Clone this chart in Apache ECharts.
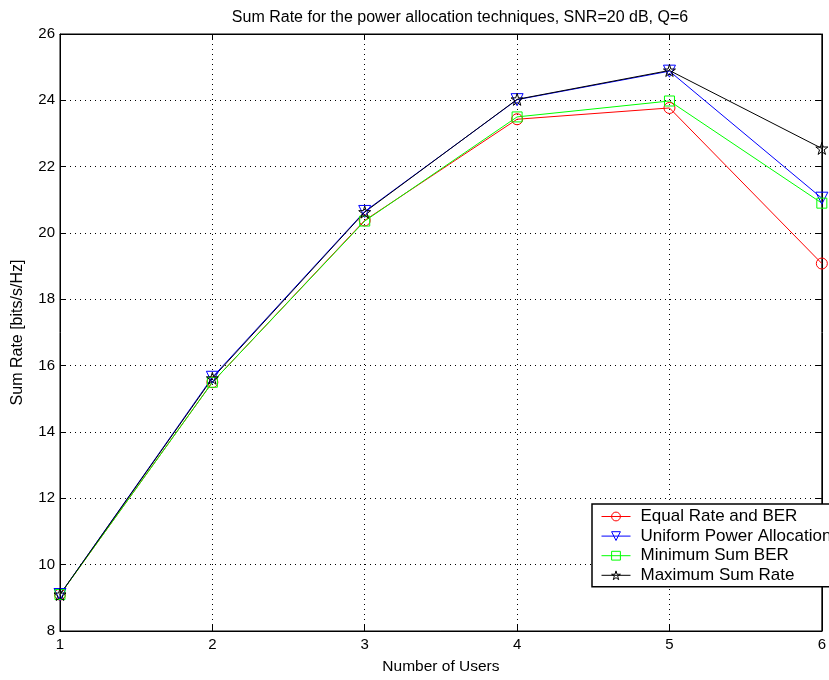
<!DOCTYPE html>
<html>
<head>
<meta charset="utf-8">
<script src="https://cdn.jsdelivr.net/npm/echarts@6/dist/echarts.min.js"></script>
<style>html,body{margin:0;padding:0;background:#fff;}#c{width:829px;height:680px;}</style>
</head>
<body>
<div id="c"></div>
<script>
var users = [1, 2, 3, 4, 5, 6];
var equalRateBER = [9.1, 15.5, 20.38, 23.43, 23.77, 19.08];
var uniformPower = [9.1, 15.65, 20.65, 24.02, 24.88, 21.05];
var minSumBER = [9.1, 15.5, 20.36, 23.5, 23.98, 20.9];
var maxSumRate = [9.1, 15.62, 20.63, 24.03, 24.9, 22.55];
var seriesNames = ['Equal Rate and BER', 'Uniform Power Allocation', 'Minimum Sum BER', 'Maximum Sum Rate'];
var yTicks = [8, 10, 12, 14, 16, 18, 20, 22, 24, 26];

var FONT = '"Liberation Sans", Arial, Helvetica, sans-serif';
var star = 'path://M50,0 L61.2,34.5 L97.6,34.5 L68.2,55.9 L79.4,90.5 L50,69.1 L20.6,90.5 L31.8,55.9 L2.4,34.5 L38.8,34.5 Z';
var colors = ['#ff0000', '#0000ff', '#00ff00', '#000000'];
var clear = 'rgba(255,255,255,0)';

function pairs(arr) { return users.map(function (u, i) { return [u, arr[i]]; }); }

function mk(name, data, color, symbol, size, rot) {
  return {
    name: name, type: 'line', data: pairs(data),
    symbol: symbol, symbolSize: size, symbolRotate: rot || 0,
    showAllSymbol: true,
    lineStyle: { color: color, width: 1 },
    itemStyle: { color: clear, borderColor: color, borderWidth: 1 },
    emphasis: { disabled: true },
    animation: false
  };
}

var chart = echarts.init(document.getElementById('c'), null, { renderer: 'canvas' });
chart.setOption({
  backgroundColor: '#fff',
  animation: false,
  title: {
    text: 'Sum Rate for the power allocation techniques, SNR=20 dB, Q=6',
    left: 455, top: 5, textAlign: 'center',
    textStyle: { fontFamily: FONT, fontSize: 16, fontWeight: 'normal', color: '#000' }
  },
  grid: { left: 60, right: 6, top: 34, bottom: 46, show: true, borderColor: '#000', borderWidth: 1, backgroundColor: 'transparent' },
  legend: {
    orient: 'vertical', left: 592, top: 504,
    data: seriesNames.map(function (n, i) {
      return { name: n, itemStyle: { color: clear, borderColor: colors[i], borderWidth: 1 }, lineStyle: { color: colors[i], width: 1 } };
    }),
    itemWidth: 29, itemHeight: 11, itemGap: 2.6,
    padding: [4, 8, 3, 9],
    backgroundColor: '#fff', borderColor: '#000', borderWidth: 1.5, borderRadius: 0,
    textStyle: { fontFamily: FONT, fontSize: 17, color: '#000', padding: [0, 0, 0, 5] }
  },
  xAxis: [{
    type: 'value', min: 1, max: 6, interval: 1,
    name: 'Number of Users', nameLocation: 'middle', nameGap: 28,
    nameTextStyle: { fontFamily: FONT, fontSize: 15.5, color: '#000' },
    axisLine: { show: true, lineStyle: { color: '#000', width: 1 } },
    axisTick: { show: true, inside: true, length: 6, lineStyle: { color: '#000' } },
    axisLabel: { fontFamily: FONT, fontSize: 15, color: '#000', margin: 6 },
    splitLine: { show: true, lineStyle: { color: '#000', type: [1, 4], width: 1 } }
  }, {
    type: 'value', min: 1, max: 6, interval: 1, position: 'top',
    axisLine: { show: true, lineStyle: { color: '#000' } },
    axisTick: { show: true, inside: true, length: 6, lineStyle: { color: '#000' } },
    axisLabel: { show: false }, splitLine: { show: false }
  }],
  yAxis: [{
    type: 'value', min: yTicks[0], max: yTicks[yTicks.length - 1], interval: 2,
    name: 'Sum Rate [bits/s/Hz]', nameLocation: 'middle', nameGap: 34,
    nameTextStyle: { fontFamily: FONT, fontSize: 16, color: '#000' },
    axisLine: { show: true, lineStyle: { color: '#000', width: 1 } },
    axisTick: { show: true, inside: true, length: 6, lineStyle: { color: '#000' } },
    axisLabel: { fontFamily: FONT, fontSize: 15, color: '#000', margin: 5 },
    splitLine: { show: true, lineStyle: { color: '#000', type: [1, 4], width: 1 } }
  }, {
    type: 'value', min: yTicks[0], max: yTicks[yTicks.length - 1], interval: 2, position: 'right',
    axisLine: { show: true, lineStyle: { color: '#000' } },
    axisTick: { show: true, inside: true, length: 6, lineStyle: { color: '#000' } },
    axisLabel: { show: false }, splitLine: { show: false }
  }],
  series: [
    mk(seriesNames[0], equalRateBER, colors[0], 'circle', 11),
    mk(seriesNames[1], uniformPower, colors[1], 'triangle', 12, 180),
    mk(seriesNames[2], minSumBER, colors[2], 'rect', 10),
    mk(seriesNames[3], maxSumRate, colors[3], star, 12)
  ]
});
</script>
</body>
</html>
